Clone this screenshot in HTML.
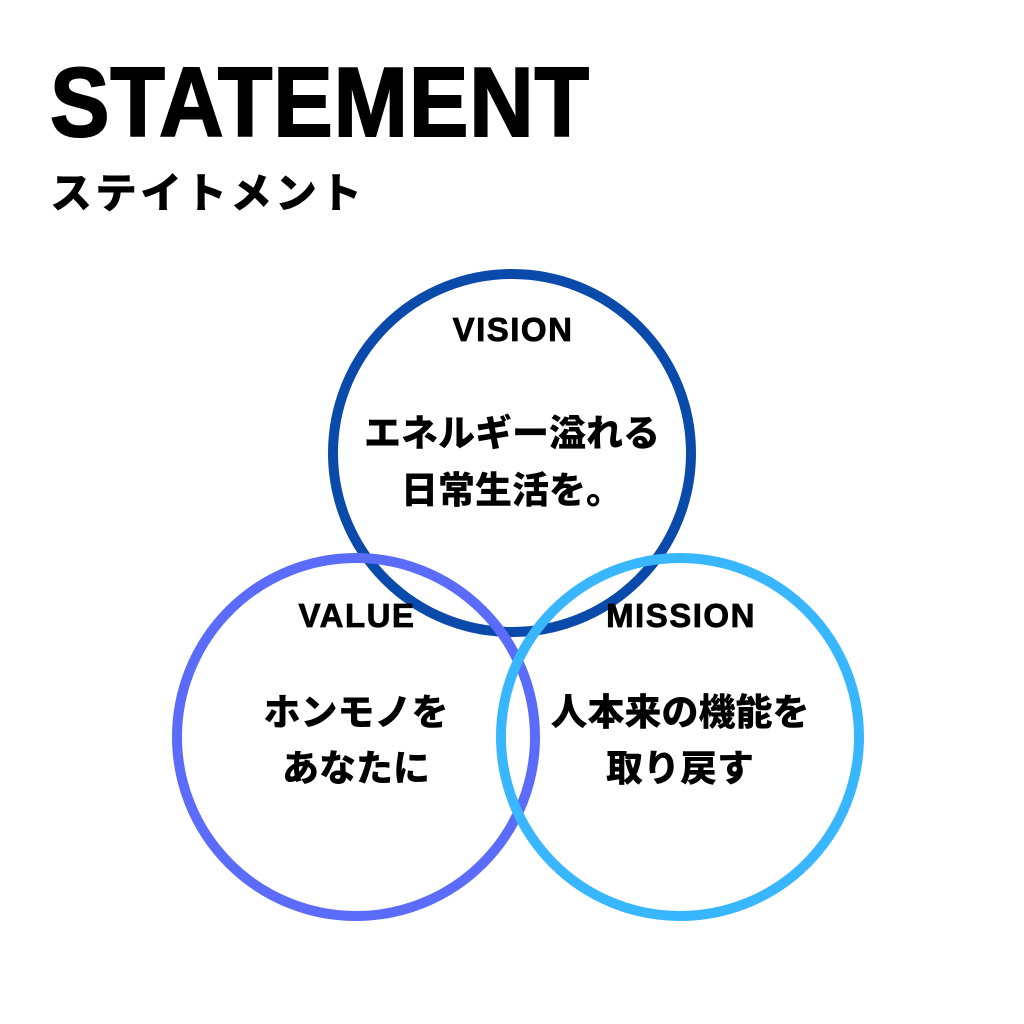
<!DOCTYPE html>
<html><head><meta charset="utf-8"><style>
html,body{margin:0;padding:0;background:#fff;}
body{width:1024px;height:1024px;position:relative;overflow:hidden;font-family:"Liberation Sans","Noto Sans CJK JP",sans-serif;}
.t{position:absolute;font-weight:bold;color:#000;white-space:nowrap;}
</style></head><body>
<div class="t" style="left:50px;top:52px;font-size:98px;line-height:100px;transform:scaleX(0.91);transform-origin:left top;letter-spacing:1px;-webkit-text-stroke:2px #000;">STATEMENT</div>
<div class="t" style="left:50px;top:166px;font-size:42px;line-height:50px;font-family:'Noto Sans CJK JP',sans-serif;font-weight:900;letter-spacing:3px;">ステイトメント</div>
<svg width="1024" height="1024" style="position:absolute;left:0;top:0">
<circle cx="512" cy="453" r="179" fill="none" stroke="#0a4aab" stroke-width="10"/>
<circle cx="356" cy="737" r="179" fill="none" stroke="#5a6cf9" stroke-width="10"/>
<circle cx="680" cy="737" r="179" fill="none" stroke="#38b6ff" stroke-width="10"/>
<g font-family="'Liberation Sans',sans-serif" font-weight="bold" font-size="33" text-anchor="middle" fill="#000" letter-spacing="1.5" stroke="#000" stroke-width="0.8">
<text x="513" y="341">VISION</text>
<text x="357" y="627">VALUE</text>
<text x="681" y="627">MISSION</text>
</g>
<g font-family="'Noto Sans CJK JP',sans-serif" font-weight="900" font-size="37" text-anchor="middle" fill="#000">
<text x="512" y="446">エネルギー溢れる</text>
<text x="512" y="503">日常生活を。</text>
<text x="356" y="725">ホンモノを</text>
<text x="356" y="781">あなたに</text>
<text x="680" y="725">人本来の機能を</text>
<text x="680" y="781">取り戻す</text>
</g>
</svg>
</body></html>
